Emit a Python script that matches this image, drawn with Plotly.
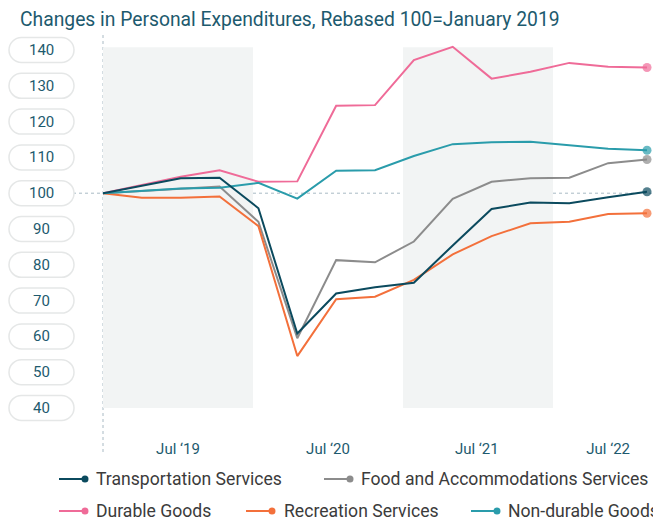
import plotly.graph_objects as go

# ---------------- data ----------------
quarters = ["Jan 2019", "Apr 2019", "Jul 2019", "Oct 2019",
            "Jan 2020", "Apr 2020", "Jul 2020", "Oct 2020",
            "Jan 2021", "Apr 2021", "Jul 2021", "Oct 2021",
            "Jan 2022", "Apr 2022", "Jul 2022"]

transportation = [100, 102.1, 104.2, 104.3, 95.8, 60.8, 72.0, 73.7, 75.0, 85.4, 95.6, 97.4, 97.2, 98.9, 100.4]
food_accom = [100, 100.6, 101.1, 101.9, 92.0, 59.5, 81.3, 80.7, 86.5, 98.4, 103.2, 104.2, 104.3, 108.4, 109.4]
durable = [100, 102.3, 104.6, 106.4, 103.2, 103.3, 124.4, 124.6, 137.2, 140.9, 132.0, 133.9, 136.4, 135.3, 135.1]
recreation = [100, 98.7, 98.7, 99.1, 90.8, 54.5, 70.4, 71.1, 75.8, 82.9, 88.0, 91.6, 92.0, 94.2, 94.4]
non_durable = [100, 100.7, 101.3, 101.5, 102.9, 98.5, 106.3, 106.4, 110.4, 113.7, 114.2, 114.4, 113.3, 112.4, 112.0]

series_names = ["Transportation Services", "Food and Accommodations Services",
                "Durable Goods", "Recreation Services", "Non-durable Goods"]
series_values = [transportation, food_accom, durable, recreation, non_durable]

y_ticks = [140, 130, 120, 110, 100, 90, 80, 70, 60, 50, 40]
x_tick_pos = [1.93, 5.79, 9.62, 13.0]
x_tick_text = ["Jul \u201819", "Jul \u201820", "Jul \u201821", "Jul \u201822"]

# ---------------- style ----------------
colors = ["#0b4a5e", "#8c8c8c", "#ef6b98", "#f3703b", "#2a9cab"]
text_col = "#1d5a6e"
OFF = 8  # page body margin
W, H = 661, 522
ML, MT, MB = 103 - OFF, 34 - OFF, 522 - (426 - OFF)
PW = 558
MR = W - ML - PW
PH = H - MT - MB
Y_RANGE = [34.97, 144.47]
X_RANGE = [0, 14.36]
FONT = "Roboto"

x = list(range(len(quarters)))


def px_x(px):
    return (px - OFF - ML) / PW


def px_y(py):
    return (H - MB - (py - OFF)) / PH


fig = go.Figure()

draw_order = [1, 3, 2, 4, 0]
for i in draw_order:
    vals = series_values[i]
    sizes = [0] * (len(vals) - 1) + [9]
    fig.add_trace(go.Scatter(
        x=x, y=vals, name=series_names[i], mode="lines+markers",
        line=dict(color=colors[i], width=2),
        marker=dict(color=colors[i], size=sizes, line=dict(width=0)),
        customdata=quarters, hovertemplate="%{customdata}: %{y}<extra>" + series_names[i] + "</extra>",
        showlegend=False,
    ))

shapes = []
# shaded bands
for x0, x1 in [(0, 3.86), (7.72, 11.58)]:
    shapes.append(dict(type="rect", xref="x", yref="y", x0=x0, x1=x1, y0=40, y1=140.8,
                       fillcolor="#f2f4f4", line=dict(width=0), layer="below"))
# vertical dotted line at first point
shapes.append(dict(type="line", xref="paper", yref="paper", x0=0, x1=0,
                   y0=px_y(452), y1=px_y(32), line=dict(color="#a9bac4", width=1, dash="dot"),
                   layer="below"))
# horizontal dotted line at 100
shapes.append(dict(type="line", xref="paper", yref="y", x0=px_x(73), x1=px_x(661), y0=100, y1=100,
                   line=dict(color="#a9bac4", width=1, dash="dot"), layer="below"))

# pill boxes for y tick labels
pw, ph = 32.5, 12.5
k = 0.5523
r = ph
pill = (f"M {-pw + r},{-ph} L {pw - r},{-ph} "
        f"C {pw - r + r * k},{-ph} {pw},{-r * k} {pw},0 "
        f"C {pw},{r * k} {pw - r + r * k},{ph} {pw - r},{ph} "
        f"L {-pw + r},{ph} "
        f"C {-pw + r - r * k},{ph} {-pw},{r * k} {-pw},0 "
        f"C {-pw},{-r * k} {-pw + r - r * k},{-ph} {-pw + r},{-ph} Z")
annotations = []
for t in y_ticks:
    shapes.append(dict(type="path", xref="paper", yref="y", xsizemode="pixel", ysizemode="pixel",
                       xanchor=px_x(41.5), yanchor=t, path=pill,
                       line=dict(color="#e5e7e7", width=1.5), fillcolor="white", layer="above"))
    annotations.append(dict(xref="paper", yref="y", x=px_x(41.5), y=t, text=str(t),
                            showarrow=False, xanchor="center", yanchor="middle",
                            font=dict(family=FONT, size=15, color=text_col)))

# custom legend
legend_layout = [  # (series index, line start px, text start px, row y px)
    (0, 59, 94, 479), (1, 324, 359, 479),
    (2, 59, 94, 511), (3, 246, 282, 511), (4, 471, 506, 511),
]
for idx, lx, tx, ly in legend_layout:
    shapes.append(dict(type="line", xref="paper", yref="paper", x0=px_x(lx), x1=px_x(lx + 26),
                       y0=px_y(ly), y1=px_y(ly), line=dict(color=colors[idx], width=2)))
    shapes.append(dict(type="circle", xref="paper", yref="paper",
                       x0=px_x(lx + 26 - 3.5), x1=px_x(lx + 26 + 3.5),
                       y0=px_y(ly + 3.5), y1=px_y(ly - 3.5),
                       fillcolor=colors[idx], line=dict(width=0)))
    annotations.append(dict(xref="paper", yref="paper", x=px_x(tx), y=px_y(ly),
                            text=series_names[idx], showarrow=False, xanchor="left",
                            yanchor="middle", font=dict(family=FONT, size=17.6, color="#3b3b3b")))

fig.update_layout(
    width=W, height=H,
    margin=dict(l=ML, r=MR, t=MT, b=MB),
    paper_bgcolor="white", plot_bgcolor="white",
    title=dict(text="Changes in Personal Expenditures, Rebased 100=January 2019",
               xref="container", yref="container", x=(20 - OFF) / W, xanchor="left",
               y=1 - (19 - OFF) / H, yanchor="middle",
               font=dict(family=FONT, size=19.3, color=text_col)),
    xaxis=dict(range=X_RANGE, showgrid=False, zeroline=False, showline=False,
               tickmode="array", tickvals=x_tick_pos, ticktext=x_tick_text,
               ticks="outside", ticklen=9, tickcolor="rgba(0,0,0,0)",
               tickfont=dict(family=FONT, size=15, color=text_col)),
    yaxis=dict(range=Y_RANGE, showgrid=False, zeroline=False, showline=False,
               showticklabels=False, ticks=""),
    shapes=shapes, annotations=annotations,
    showlegend=False,
)

fig.write_html("out.html")
